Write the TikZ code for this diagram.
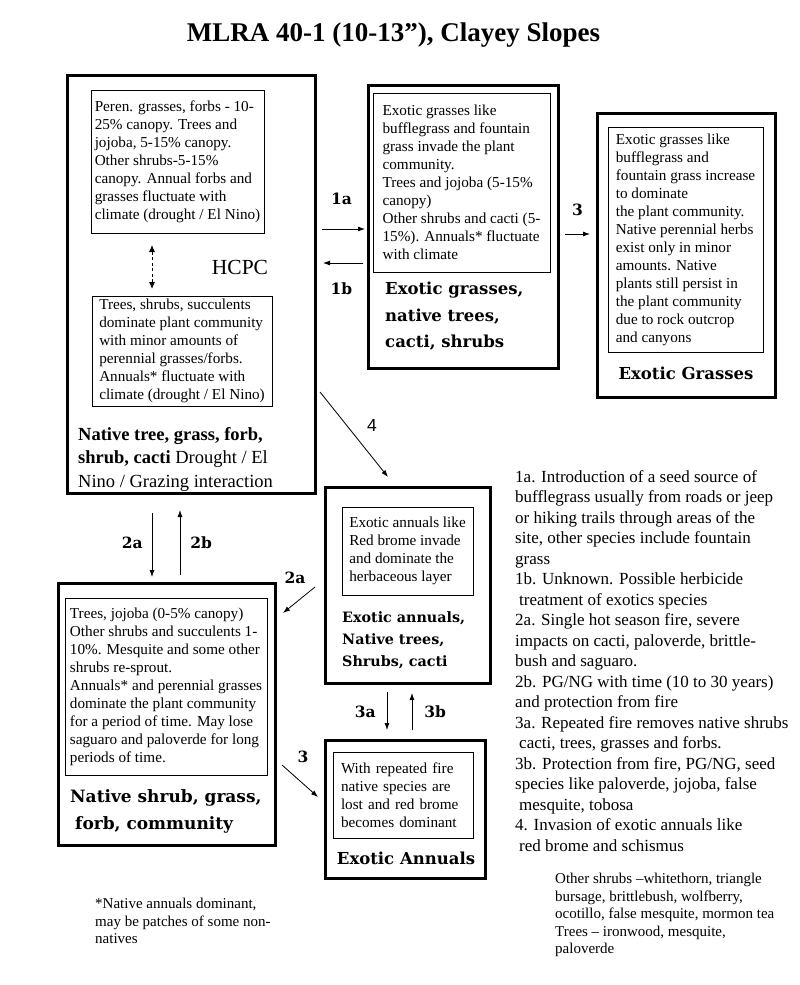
\documentclass[tikz,border=0pt]{standalone}
\usepackage{fontspec}
\setmainfont{Liberation Serif}
\newfontfamily\bookfont{DejaVu Serif}
\newfontfamily\arialfont{Liberation Sans}
\usetikzlibrary{arrows.meta,calc}

\begin{document}
\begin{tikzpicture}[x=1pt,y=-1pt,
    statebox/.style={draw,line width=3pt,inner sep=0pt,outer sep=0pt,anchor=north west},
    phasebox/.style={draw,line width=0.9pt,inner xsep=2pt,inner ysep=0pt,outer sep=0pt,
      anchor=north west,align=left,font=\fontsize{15.2}{18}\selectfont},
    statename/.style={inner sep=0pt,anchor=north west,align=left,
      font=\bookfont\bfseries\fontsize{16.5}{26.5}\selectfont},
    tag/.style={inner sep=0pt,font=\bookfont\bfseries\fontsize{15.5}{18}\selectfont},
    note/.style={inner sep=0pt,anchor=north west,align=left},
    arr/.style={-{Latex[length=7pt,width=5pt]},line width=0.8pt},
    dblarr/.style={{Latex[length=7pt,width=6pt]}-{Latex[length=7pt,width=6pt]},line width=0.9pt,dash pattern=on 3pt off 2.5pt}
  ]
  \useasboundingbox (0,0) rectangle (800,985);
  \node[font=\bfseries\fontsize{27}{30}\selectfont] (title) at (393.5,35) {MLRA 40-1 (10-13”), Clayey Slopes};

  % reference state
  \node[statebox,minimum width=248pt,minimum height=418pt] (hcpc) at (67,75) {};
  \node[phasebox,minimum width=173pt,minimum height=143pt] (hcpcA) at (91,90)
    {Peren. grasses, forbs - 10-\\25\%  canopy. Trees and\\jojoba, 5-15\% canopy.\\Other shrubs-5-15\%\\canopy. Annual forbs and\\grasses fluctuate with\\climate (drought / El Nino)};
  \node[phasebox,minimum width=180pt,minimum height=110pt] (hcpcB) at (92,296)
    {Trees, shrubs, succulents\\dominate plant community\\with minor amounts of\\perennial grasses/forbs.\\Annuals* fluctuate with\\climate (drought / El Nino)};
  \node[inner sep=0pt,font=\fontsize{21.5}{24}\selectfont] (hcpcname) at (240,267) {HCPC};
  \node[note,font=\fontsize{18.5}{23.5}\selectfont] (hcpclabel) at (78,427)
    {\textbf{Native tree, grass, forb,}\\\textbf{shrub, cacti} Drought / El\\Nino / Grazing interaction};
  \draw[dblarr,shorten <=12pt,shorten >=7pt] (hcpcA.south -| 152,0) -- (hcpcB.north -| 152,0);

  \node[statebox,minimum width=190pt,minimum height=283pt] (exg) at (368,85) {};
  \node[phasebox,minimum width=177pt,minimum height=179pt] (exgA) at (373,93)
    {Exotic grasses like\\bufflegrass and fountain\\grass invade the plant\\community.\\Trees and jojoba (5-15\%\\canopy)\\Other shrubs and cacti (5-\\15\%). Annuals* fluctuate\\with climate};
  \node[statename] (exglabel) at (385,282) {Exotic grasses,\\native trees,\\cacti, shrubs};

  \node[statebox,minimum width=178pt,minimum height=284pt] (exG) at (597,113) {};
  \node[phasebox,minimum width=155pt,minimum height=225pt] (exGA) at (608,127)
    {Exotic grasses like\\bufflegrass and\\fountain grass increase\\to dominate\\the plant community.\\Native perennial herbs\\exist only in minor\\amounts. Native\\plants still persist in\\the plant community\\due to rock outcrop\\and canyons};
  \node[statename,anchor=center] (exGlabel) at (686,373) {Exotic Grasses};

  \node[statebox,minimum width=165pt,minimum height=196pt] (exa) at (325,487) {};
  \node[phasebox,minimum width=131pt,minimum height=88pt] (exaA) at (342,507)
    {Exotic annuals like\\Red brome invade\\and dominate the\\herbaceous layer};
  \node[statename,font=\bookfont\bfseries\fontsize{14.3}{22}\selectfont] (exalabel) at (342,611)
    {Exotic annuals,\\Native trees,\\Shrubs, cacti};

  \node[statebox,minimum width=160pt,minimum height=138pt] (exA) at (325,740) {};
  \node[phasebox,minimum width=140pt,minimum height=86pt,text width=124pt,inner xsep=8pt] (exAA) at (333,752)
    {With repeated fire\\native species are\\lost and red brome\\becomes dominant};
  \node[statename,anchor=center] (exAlabel) at (406,858) {Exotic Annuals};

  \node[statebox,minimum width=217pt,minimum height=262pt] (nsg) at (58,583) {};
  \node[phasebox,minimum width=202pt,minimum height=177pt] (nsgA) at (65,598)
    {Trees, jojoba (0-5\% canopy)\\Other shrubs and succulents 1-\\10\%. Mesquite and some other\\shrubs re-sprout.\\Annuals* and perennial grasses\\dominate  the plant community\\for a period of time. May lose\\saguaro and paloverde for long\\periods of time.};
  \node[statename,font=\bookfont\bfseries\fontsize{17}{27}\selectfont] (nsglabel) at (70,789)
    {Native shrub, grass,\\\hspace*{5pt}forb, community};

  % transitions
  \draw[arr,shorten <=7pt,shorten >=3pt] (hcpc.east |- 0,229) -- node[tag,above=24pt] (t1a) {1a} (exg.west |- 0,229);
  \draw[arr,shorten <=5pt,shorten >=8pt] (exg.west |- 0,263) -- node[tag,below=19pt] (t1b) {1b} (hcpc.east |- 0,263);
  \draw[arr,shorten <=7pt,shorten >=7pt] (exg.east |- 0,234) -- node[tag,above=18pt] (t3top) {3} (exG.west |- 0,234);
  \draw[arr,shorten <=20pt,shorten >=6pt] (hcpc.south -| 152,0) -- node[tag,left=9pt,yshift=-5pt] (t2a) {2a} (nsg.north -| 152,0);
  \draw[arr,shorten <=8pt,shorten >=17pt] (nsg.north -| 180,0) -- node[tag,right=10pt,yshift=-5pt] (t2b) {2b} (hcpc.south -| 180,0);
  \draw[arr,shorten <=9pt,shorten >=10pt] (exa.south -| 387,0) -- node[tag,left=11pt] (t3a) {3a} (exA.north -| 387,0);
  \draw[arr,shorten <=10pt,shorten >=10pt] (exA.north -| 412,0) -- node[tag,right=12pt] (t3b) {3b} (exa.south -| 412,0);
  \draw[arr] ($(exa.west)+(-10,2)$) -- node[tag,at start,xshift=-20pt,yshift=9pt] (t2adiag) {2a} ($(nsg.north east)+(8,30)$);
  \draw[arr] ($(nsg.east)+(7,51)$) -- node[tag,at start,xshift=21pt,yshift=8pt] (t3diag) {3} ($(exA.west)+(-7,-12)$);
  \draw[arr] ($(hcpc.east)+(5,108)$) -- node[inner sep=0pt,font=\arialfont\fontsize{17.5}{20}\selectfont,xshift=18pt,yshift=9.5pt] (t4) {4} ($(exa.north west)+(63,-10)$);

  \node[note,font=\fontsize{17}{20.5}\selectfont] (legend) at (515,470)
    {1a. Introduction of a seed source of\\bufflegrass usually from roads or jeep\\or hiking trails  through areas of  the\\site, other species include fountain\\grass\\1b. Unknown. Possible herbicide\\\hspace*{4pt}treatment of exotics species\\2a. Single hot season fire, severe\\impacts on cacti, paloverde, brittle-\\bush and saguaro.\\2b. PG/NG  with time (10 to 30 years)\\and protection from fire\\3a. Repeated fire removes native shrubs\\\hspace*{4pt}cacti, trees, grasses and forbs.\\3b. Protection from fire, PG/NG, seed\\species like paloverde, jojoba, false\\\hspace*{4pt}mesquite, tobosa\\4. Invasion of exotic annuals like\\\hspace*{4pt}red brome and schismus};
  \node[note,font=\fontsize{15}{17.5}\selectfont] (othershrubs) at (555,873)
    {Other shrubs –whitethorn, triangle\\bursage, brittlebush, wolfberry,\\ocotillo, false  mesquite, mormon tea\\Trees – ironwood,  mesquite,\\paloverde};
  \node[note,font=\fontsize{15}{17.5}\selectfont] (footnote) at (95,898)
    {*Native annuals dominant,\\may be patches of some non-\\natives};
\end{tikzpicture}
\end{document}
